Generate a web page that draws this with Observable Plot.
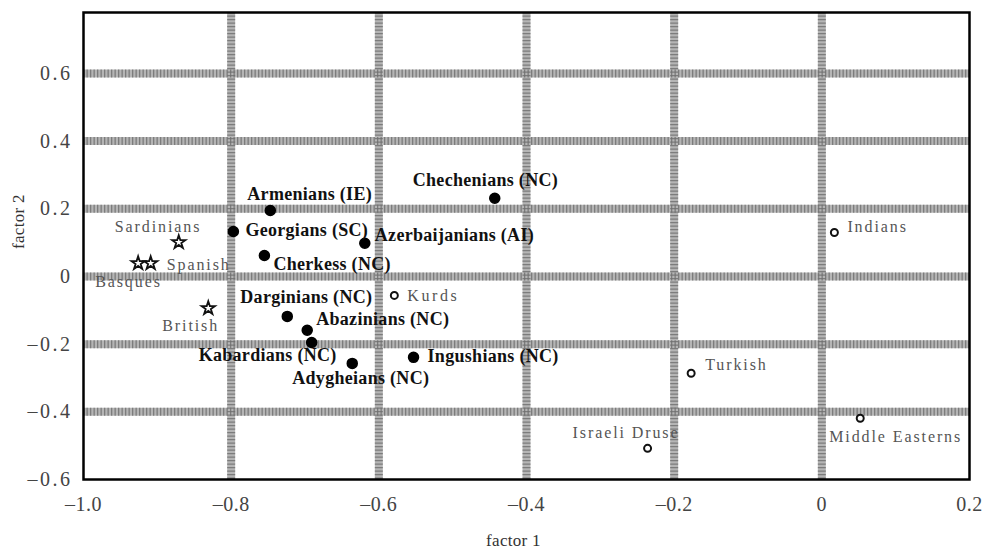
<!DOCTYPE html>
<html>
<head>
<meta charset="utf-8">
<script src="https://cdn.jsdelivr.net/npm/d3@7"></script>
<script src="https://cdn.jsdelivr.net/npm/@observablehq/plot@0.6"></script>
<style>
  html, body { margin: 0; padding: 0; background: #fff; }
  #chart { width: 984px; height: 552px; }
</style>
</head>
<body>
<div id="chart"></div>
<script>
// ---- data ----
const names = [
  "Armenians (IE)", "Georgians (SC)", "Chechenians (NC)", "Azerbaijanians (AI)",
  "Cherkess (NC)", "Darginians (NC)", "Abazinians (NC)", "Kabardians (NC)",
  "Adygheians (NC)", "Ingushians (NC)",
  "Kurds", "Indians", "Turkish", "Israeli Druse", "Middle Easterns",
  "Sardinians", "Spanish", "Basques", "British"
];
const factor1 = [
  -0.747, -0.797, -0.443, -0.619,
  -0.755, -0.724, -0.697, -0.691,
  -0.636, -0.553,
  -0.579, 0.017, -0.177, -0.236, 0.052,
  -0.871, -0.909, -0.926, -0.831
];
const factor2 = [
  0.195, 0.133, 0.231, 0.098,
  0.062, -0.118, -0.159, -0.195,
  -0.257, -0.239,
  -0.056, 0.130, -0.286, -0.508, -0.419,
  0.101, 0.039, 0.039, -0.094
];
const groups = [
  "caucasus", "caucasus", "caucasus", "caucasus",
  "caucasus", "caucasus", "caucasus", "caucasus",
  "caucasus", "caucasus",
  "asia", "asia", "asia", "asia", "asia",
  "europe", "europe", "europe", "europe"
];
const xTicks = [-1.0, -0.8, -0.6, -0.4, -0.2, 0, 0.2];
const yTicks = [-0.6, -0.4, -0.2, 0, 0.2, 0.4, 0.6];
const xGrid = [-0.8, -0.6, -0.4, -0.2, 0];
const yGrid = [-0.4, -0.2, 0, 0.2, 0.4, 0.6];
const xLabel = "factor 1";
const yLabel = "factor 2";

// label placement (layout only): [dx, dy] in pixels from the point
const labelPlacement = {
  "Armenians (IE)": [-23, -16],
  "Georgians (SC)": [12, -1],
  "Chechenians (NC)": [-82, -18],
  "Azerbaijanians (AI)": [10, -8],
  "Cherkess (NC)": [9, 9],
  "Darginians (NC)": [-47, -19],
  "Abazinians (NC)": [9, -11],
  "Kabardians (NC)": [-113, 13],
  "Adygheians (NC)": [-60, 15],
  "Ingushians (NC)": [14, -1],
  "Kurds": [13, 0],
  "Indians": [13, -6],
  "Turkish": [14, -8],
  "Israeli Druse": [-75, -15],
  "Middle Easterns": [-31, 19],
  "Sardinians": [-64, -15],
  "Spanish": [16, 2],
  "Basques": [-43, 19],
  "British": [-46, 18]
};

const data = names.map((n, i) => ({name: n, f1: factor1[i], f2: factor2[i], group: groups[i]}));
const cauc = data.filter(d => d.group === "caucasus");
const asia = data.filter(d => d.group === "asia");
const euro = data.filter(d => d.group === "europe");

const fmt = d => d === 0 ? "0" : d.toFixed(1).replace("-", "\u2013");
const serif = "'Liberation Serif', 'Times New Roman', serif";

const labelMarks = data.map(d => {
  const [dx, dy] = labelPlacement[d.name];
  const bold = d.group === "caucasus";
  return Plot.text([d], {
    x: "f1", y: "f2", text: "name",
    dx, dy, textAnchor: "start", lineAnchor: "middle",
    fontSize: bold ? 18 : 16,
    fontWeight: bold ? "bold" : "normal",
    fill: bold ? "#111" : "#555"
  });
});

const chart = Plot.plot({
  width: 984,
  height: 552,
  marginLeft: 83,
  marginRight: 15,
  marginTop: 12,
  marginBottom: 73,
  style: {fontFamily: serif, background: "#fff", overflow: "visible"},
  x: {domain: [-1, 0.2]},
  y: {domain: [-0.6, 0.78]},
  marks: [
    Plot.ruleX(xGrid, {stroke: "#b5b5b5", strokeWidth: 8}),
    Plot.ruleY(yGrid, {stroke: "#b5b5b5", strokeWidth: 8}),
    Plot.ruleX(xGrid, {stroke: "#6e6e6e", strokeWidth: 8, strokeDasharray: "1.3,2.2", strokeOpacity: 0.8}),
    Plot.ruleY(yGrid, {stroke: "#6e6e6e", strokeWidth: 8, strokeDasharray: "1.3,2.2", strokeOpacity: 0.8}),
    Plot.frame({stroke: "#000", strokeWidth: 2.5}),
    Plot.axisX(xTicks, {tickSize: 0, tickPadding: 17, tickFormat: fmt, fontSize: 20, fill: "#444", label: null}),
    Plot.axisY(yTicks, {tickSize: 0, tickPadding: 11, tickFormat: fmt, fontSize: 20, fill: "#444", label: null}),
    Plot.text([xLabel], {text: d => d, frameAnchor: "bottom", dx: -13, dy: 66, fontSize: 17, fill: "#333"}),
    Plot.text([yLabel], {text: d => d, frameAnchor: "left", dx: -65, dy: 3, rotate: -90, fontSize: 17, fill: "#333"}),
    Plot.dot(cauc, {x: "f1", y: "f2", r: 5, fill: "#000", stroke: "#000"}),
    Plot.dot(asia, {x: "f1", y: "f2", r: 3.5, fill: "#fff", stroke: "#111", strokeWidth: 2}),
    Plot.dot(euro, {x: "f1", y: "f2", symbol: "star", r: 4.2, fill: "#fff", stroke: "#111", strokeWidth: 1.8}),
    ...labelMarks
  ]
});

// letter spacing of the labels and the tick labels (style only)
const plainNames = new Set(data.filter(d => d.group !== "caucasus").map(d => d.name));
const boldNames = new Set(cauc.map(d => d.name));
d3.select(chart).selectAll("text").each(function() {
  const t = this.textContent;
  if (t === "Kurds") this.style.letterSpacing = "2.6px";
  else if (plainNames.has(t)) this.style.letterSpacing = "1.9px";
  else if (boldNames.has(t)) this.style.letterSpacing = "0.3px";
  else if (t === xLabel || t === yLabel) this.style.letterSpacing = "0.3px";
});
d3.select(chart).selectAll('g[aria-label="y-axis tick label"] text').style("letter-spacing", "2.5px");
d3.select(chart).selectAll('g[aria-label="x-axis tick label"] text').style("letter-spacing", "0.5px");

document.getElementById("chart").appendChild(chart);
</script>
</body>
</html>
